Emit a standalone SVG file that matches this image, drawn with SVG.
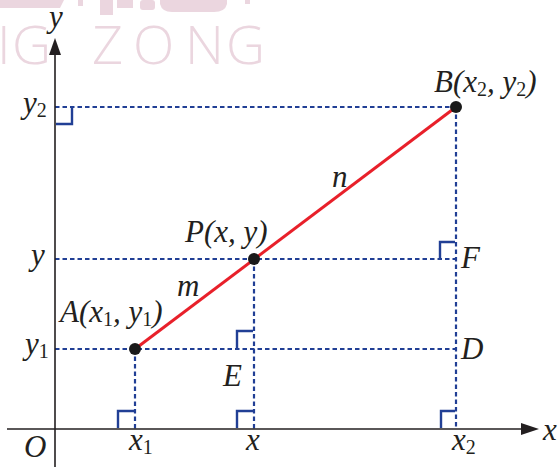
<svg xmlns="http://www.w3.org/2000/svg" width="559" height="467" viewBox="0 0 559 467">
<style>
.wm{fill:#ebd6df}
.ax{stroke:#231f20;stroke-width:1.6;fill:none}
.dash{stroke:#213f95;stroke-width:2.2;stroke-dasharray:4.5 3;fill:none}
.ra{stroke:#213f95;stroke-width:2.4;fill:none}
.seg{stroke:#e8202a;stroke-width:3;fill:none}
.pt{fill:#1a1a1a}
text{font-family:"Liberation Serif","DejaVu Serif","Times New Roman",serif;font-style:italic;font-size:31px;fill:#231f20}
.sub{font-size:20px;font-style:normal}
</style>
<g id="watermark">
<path class="wm" d="M0,0 H64 L60,8 H0 Z"/>
<rect class="wm" x="78" y="0" width="5" height="6"/>
<rect class="wm" x="100" y="0" width="13" height="15"/>
<rect class="wm" x="117" y="0" width="16" height="8"/>
<rect class="wm" x="140" y="0" width="15" height="10" rx="3"/>
<path class="wm" d="M160,0 H227 V4 Q225,12 214,12 H172 Q162,12 160,4 Z"/>
<rect class="wm" x="245" y="0" width="5" height="4"/>
<text x="-3 12 60 92 133 185 226" y="64" style="font-family:'Open Sans','Liberation Sans',sans-serif;font-style:normal;font-weight:300;font-size:54px;fill:#ebd6df">IG ZONG</text>
</g>
<g id="connectors">
<polyline class="dash" points="55,107 456,107"/>
<polyline class="dash" points="55,259 456,259"/>
<polyline class="dash" points="55,349 456,349"/>
<polyline class="dash" points="135,349 135,429"/>
<polyline class="dash" points="254,259 254,429"/>
<polyline class="dash" points="456,107 456,429"/>
<polyline class="ra" points="72,108 72,124 56,124"/>
<polyline class="ra" points="440,259 440,242 455,242"/>
<polyline class="ra" points="237,349 237,331 253,331"/>
<polyline class="ra" points="118,428 118,411 134,411"/>
<polyline class="ra" points="237,428 237,411 253,411"/>
<polyline class="ra" points="441,428 441,411 455,411"/>
<line class="seg" x1="135" y1="349" x2="456" y2="107"/>
</g>
<g id="axes">
<line class="ax" x1="55" y1="467" x2="55" y2="52"/>
<polygon points="55,38 49,55 61,55" fill="#231f20"/>
<line class="ax" x1="7" y1="429" x2="524" y2="429"/>
<polygon points="539,429 521,423 521,435" fill="#231f20"/>
<text x="49" y="27">y</text>
<text x="543" y="440">x</text>
<text x="24" y="457">O</text>
</g>
<g id="ticks">
<text x="23" y="113">y<tspan class="sub" dy="4">2</tspan></text>
<text x="31" y="265">y</text>
<text x="25" y="354">y<tspan class="sub" dy="4">1</tspan></text>
<text x="129" y="450">x<tspan class="sub" dy="4">1</tspan></text>
<text x="246" y="450">x</text>
<text x="452" y="450">x<tspan class="sub" dy="4">2</tspan></text>
</g>
<g id="A">
<circle class="pt" cx="135" cy="349" r="6"/>
<text x="60" y="322">A(x<tspan class="sub" dy="4">1</tspan><tspan dy="-4">, y</tspan><tspan class="sub" dy="4">1</tspan><tspan dy="-4">)</tspan></text>
</g>
<g id="P">
<circle class="pt" cx="254" cy="259" r="6"/>
<text x="185" y="242">P(x, y)</text>
</g>
<g id="B">
<circle class="pt" cx="456" cy="107" r="6"/>
<text x="434" y="92">B(x<tspan class="sub" dy="4">2</tspan><tspan dy="-4">, y</tspan><tspan class="sub" dy="4">2</tspan><tspan dy="-4">)</tspan></text>
</g>
<g id="labels">
<text x="177" y="296">m</text>
<text x="332" y="187">n</text>
<text x="461" y="268">F</text>
<text x="461" y="359">D</text>
<text x="223" y="386">E</text>
</g>
</svg>
